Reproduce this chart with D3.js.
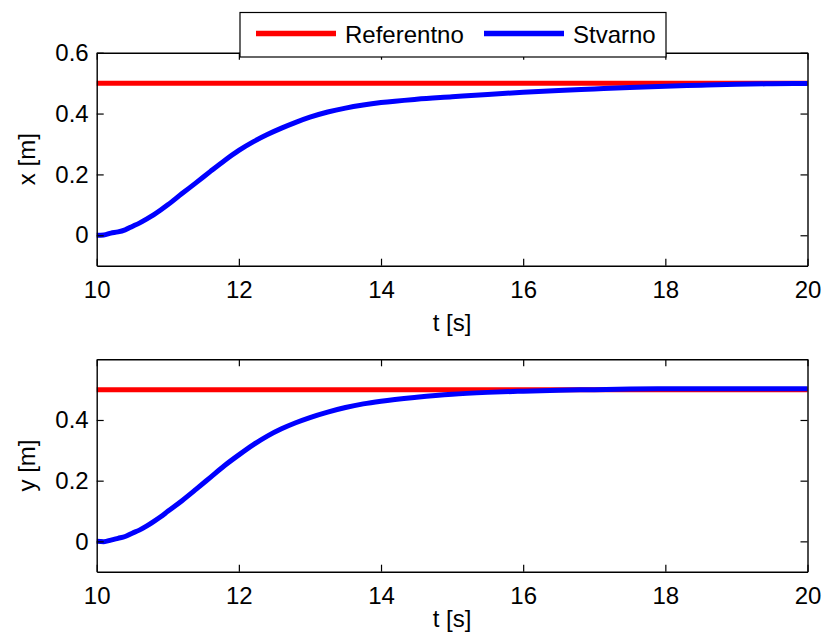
<!DOCTYPE html>
<html>
<head>
<meta charset="utf-8">
<script src="https://cdn.jsdelivr.net/npm/d3@7"></script>
<style>
  body { margin: 0; background: #fff; }
  svg text { font-family: "Liberation Sans", Arial, sans-serif; fill: #000; }
</style>
</head>
<body>
<div id="chart"></div>
<script>
// time samples (s)
var tSamples = [10, 10.1, 10.2, 10.3, 10.4, 10.5, 10.6, 10.7, 10.8, 10.9, 11,
    11.2, 11.4, 11.6, 11.8, 12, 12.2, 12.4, 12.6, 12.8, 13, 13.25, 13.5, 13.75,
    14, 14.5, 15, 15.5, 16, 16.5, 17, 17.5, 18, 18.5, 19, 19.5, 20];
// actual x position (m)
var xActual = [0, 0.001, 0.007, 0.011, 0.018, 0.029, 0.040, 0.053, 0.067, 0.083, 0.100,
    0.137, 0.173, 0.210, 0.246, 0.279, 0.307, 0.331, 0.352, 0.371, 0.388, 0.405, 0.418, 0.428,
    0.436, 0.447, 0.455, 0.463, 0.470, 0.476, 0.481, 0.486, 0.490, 0.493, 0.496, 0.498, 0.499];
// actual y position (m)
var yActual = [0, -0.001, 0.004, 0.010, 0.016, 0.027, 0.037, 0.050, 0.065, 0.081, 0.099,
    0.134, 0.172, 0.211, 0.250, 0.285, 0.318, 0.347, 0.371, 0.391, 0.408, 0.426, 0.441, 0.453,
    0.462, 0.475, 0.485, 0.491, 0.495, 0.498, 0.500, 0.502, 0.503, 0.503, 0.503, 0.503, 0.503];
// reference (constant)
var tRef = [10, 20];
var xRef = [0.5, 0.5];
var yRef = [0.5, 0.5];

var xTicks = [10, 12, 14, 16, 18, 20];
var topYTicks = [0, 0.2, 0.4, 0.6];
var bottomYTicks = [0, 0.2, 0.4];

var width = 825, height = 640;
var left = 96.7, right = 807.5;
var tickLen = 7;

var svg = d3.select("#chart").append("svg")
    .attr("width", width)
    .attr("height", height);

function drawPanel(top, bottom, actual, ref, yTicks, yLabel, xLabelY) {
    var x = d3.scaleLinear().domain([10, 20]).range([left, right]);
    var y = d3.scaleLinear().domain([-0.1, 0.6]).range([bottom, top]);
    var g = svg.append("g");

    var line = d3.line()
        .x(function(d) { return x(d[0]); })
        .y(function(d) { return y(d[1]); });

    g.append("path")
        .datum(d3.zip(tRef, ref))
        .attr("d", line)
        .attr("fill", "none")
        .attr("stroke", "#ff0000")
        .attr("stroke-width", 5);

    g.append("path")
        .datum(d3.zip(tSamples, actual))
        .attr("d", line.curve(d3.curveMonotoneX))
        .attr("fill", "none")
        .attr("stroke", "#0000ff")
        .attr("stroke-width", 5)
        .attr("stroke-linejoin", "round");

    // axes (ticks point inward)
    var axB = g.append("g")
        .attr("transform", "translate(0," + bottom + ")")
        .call(d3.axisBottom(x).tickValues(xTicks).tickSizeInner(-tickLen)
            .tickSizeOuter(0).tickPadding(15).tickFormat(d3.format("d")));
    var axT = g.append("g")
        .attr("transform", "translate(0," + top + ")")
        .call(d3.axisTop(x).tickValues(xTicks).tickSizeInner(-tickLen)
            .tickSizeOuter(0).tickFormat(""));
    var axL = g.append("g")
        .attr("transform", "translate(" + left + ",0)")
        .call(d3.axisLeft(y).tickValues(yTicks).tickSizeInner(-tickLen)
            .tickSizeOuter(0).tickPadding(8).tickFormat(function(d) { return d === 0 ? "0" : d3.format(".1f")(d); }));
    var axR = g.append("g")
        .attr("transform", "translate(" + right + ",0)")
        .call(d3.axisRight(y).tickValues(yTicks).tickSizeInner(-tickLen)
            .tickSizeOuter(0).tickFormat(""));

    [axB, axT, axL, axR].forEach(function(a) {
        a.selectAll("path.domain").attr("stroke", "#000").attr("stroke-width", 1.4);
        a.selectAll(".tick line").attr("stroke", "#000").attr("stroke-width", 1.2);
        a.selectAll("text").attr("font-size", 24)
            .attr("font-family", "'Liberation Sans', Arial, sans-serif");
    });

    g.append("text")
        .attr("x", (left + right) / 2)
        .attr("y", xLabelY)
        .attr("text-anchor", "middle")
        .attr("font-size", 24)
        .text("t [s]");

    g.append("text")
        .attr("transform", "translate(35," + ((top + bottom) / 2) + ") rotate(-90)")
        .attr("text-anchor", "middle")
        .attr("font-size", 24)
        .text(yLabel);
}

drawPanel(52.7, 265.7, xActual, xRef, topYTicks, "x [m]", 331);
drawPanel(359.3, 571.7, yActual, yRef, bottomYTicks, "y [m]", 627);

// legend
var legend = svg.append("g");
legend.append("rect")
    .attr("x", 240).attr("y", 12.5)
    .attr("width", 426).attr("height", 44.5)
    .attr("fill", "#fff")
    .attr("stroke", "#000")
    .attr("stroke-width", 1.2);
var items = [
    { name: "Referentno", color: "#ff0000", x: 256 },
    { name: "Stvarno", color: "#0000ff", x: 484 }
];
items.forEach(function(it) {
    legend.append("line")
        .attr("x1", it.x).attr("x2", it.x + 80)
        .attr("y1", 33.5).attr("y2", 33.5)
        .attr("stroke", it.color)
        .attr("stroke-width", 5.5);
    legend.append("text")
        .attr("x", it.x + 89)
        .attr("y", 43)
        .attr("font-size", 24)
        .text(it.name);
});
</script>
</body>
</html>
